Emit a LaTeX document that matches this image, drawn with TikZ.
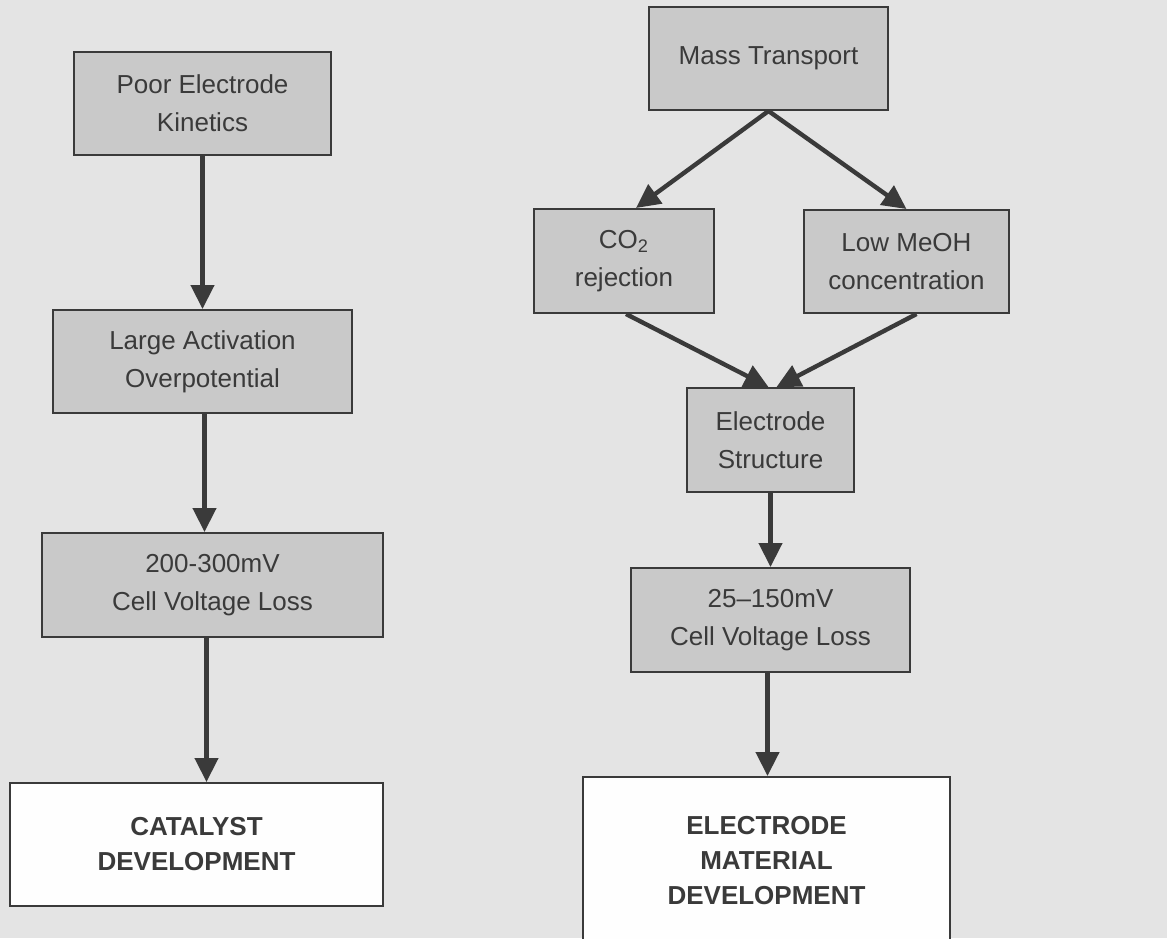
\documentclass[tikz,border=0pt]{standalone}
\usepackage{fontspec}
\setmainfont{Liberation Sans}
\usetikzlibrary{arrows.meta}

\definecolor{paper}{HTML}{E4E4E4}
\definecolor{boxgray}{HTML}{C9C9C9}
\definecolor{ink}{HTML}{3A3A3A}

\tikzset{
  cause/.style={draw=ink, line width=1pt, fill=boxgray, text=ink, align=center,
    inner sep=0pt, font=\fontsize{13}{19}\selectfont},
  goal/.style={cause, fill=white!96!paper, font=\fontsize{13}{17.5}\selectfont\bfseries},
  flow/.style={draw=ink, line width=2.2pt, -{Triangle[length=12pt,width=11.5pt]}}
}

\begin{document}
\begin{tikzpicture}[x=0.5pt,y=-0.5pt]
  \useasboundingbox[fill=paper] (0,0) rectangle (1167,938);

  % left branch: kinetics
  \node[cause, minimum width=128.5pt, minimum height=51.5pt] (pek) at (202.5,103.5) {Poor Electrode\\Kinetics};
  \node[cause, minimum width=149.5pt, minimum height=51.5pt] (lao) at (202.5,361.5) {Large Activation\\Overpotential};
  \node[cause, minimum width=170.5pt, minimum height=52pt] (cvla) at (212.5,585) {200-300mV\\Cell Voltage Loss};
  \node[goal, minimum width=186.5pt, minimum height=61.5pt] (cat) at (196.5,844.5) {CATALYST\\DEVELOPMENT};

  % right branch: mass transport
  \node[cause, minimum width=119.5pt, minimum height=51.5pt] (mt) at (768.5,58.5) {Mass Transport};
  \node[cause, minimum width=90pt, minimum height=52pt] (co2) at (624,261) {CO\textsubscript{2}\\rejection};
  \node[cause, minimum width=102.5pt, minimum height=51.5pt] (meoh) at (906.5,261.5) {Low MeOH\\concentration};
  \node[cause, minimum width=83.5pt, minimum height=52pt] (es) at (770.5,440) {Electrode\\Structure};
  \node[cause, minimum width=139.5pt, minimum height=52pt] (cvlb) at (770.5,620) {25--150mV\\Cell Voltage Loss};
  \node[goal, minimum width=183.5pt, minimum height=84pt] (emd) at (766.5,861) {ELECTRODE\\MATERIAL\\DEVELOPMENT};

  \draw[flow] (pek) -- (lao);
  \draw[flow] ([xshift=1pt]lao.south) -- ([xshift=1pt]cvla.north -| lao.south);
  \draw[flow] ([xshift=-3pt]cvla.south) -- ([xshift=-3pt]cat.north -| cvla.south);

  \draw[flow] (mt.south) -- ([xshift=6pt]co2.north);
  \draw[flow] (mt.south) -- (meoh.north);
  \draw[flow] ([xshift=1pt]co2.south) -- ([xshift=-1pt]es.north);
  \draw[flow] ([xshift=5pt]meoh.south) -- ([xshift=3pt]es.north);
  \draw[flow] (es) -- (cvlb);
  \draw[flow] ([xshift=-1.5pt]cvlb.south) -- ([xshift=-1.5pt]emd.north -| cvlb.south);
\end{tikzpicture}
\end{document}
